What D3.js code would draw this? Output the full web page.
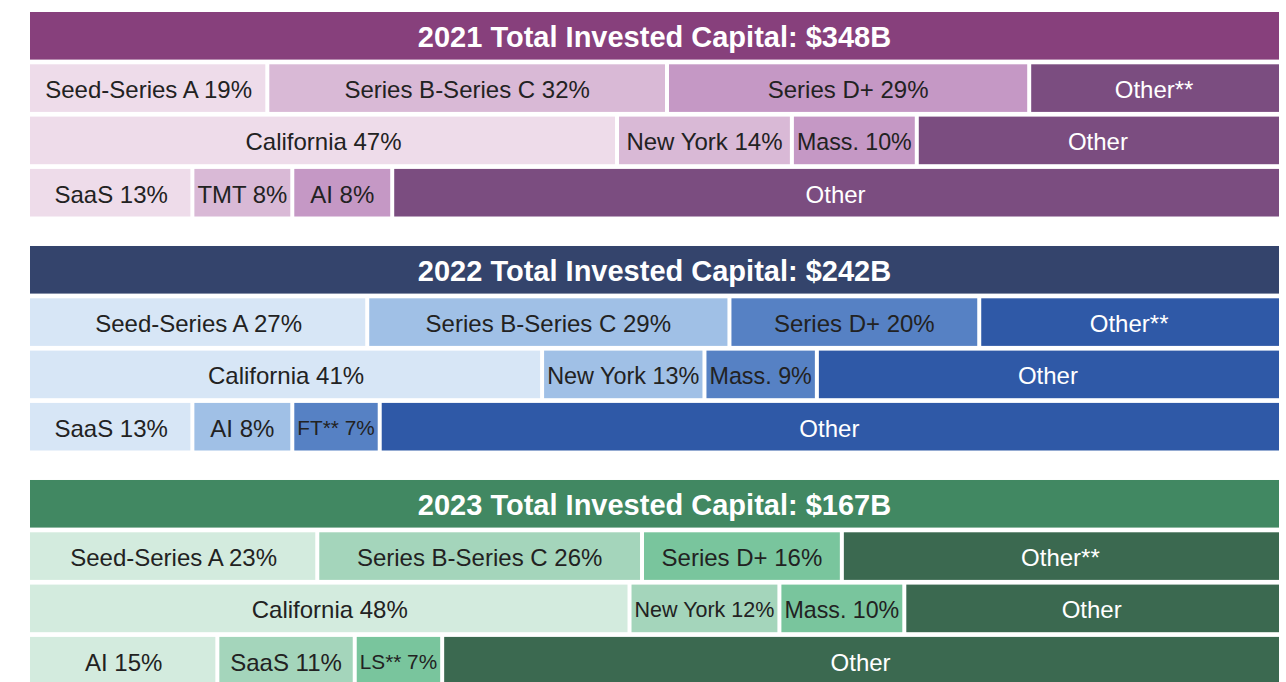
<!DOCTYPE html>
<html>
<head>
<meta charset="utf-8">
<script src="https://cdn.jsdelivr.net/npm/d3@7"></script>
<style>
  body { margin: 0; background: #fff; }
  svg text { font-family: "Liberation Sans", Arial, sans-serif; }
</style>
</head>
<body>
<svg width="1286" height="682"></svg>
<script>
const years = ['2021', '2022', '2023'];
const totals = [348, 242, 167];

const stageNames = [['Seed-Series A', 'Series B-Series C', 'Series D+'],
                    ['Seed-Series A', 'Series B-Series C', 'Series D+'],
                    ['Seed-Series A', 'Series B-Series C', 'Series D+']];
const stageShares = [[19, 32, 29], [27, 29, 20], [23, 26, 16]];

const regionNames = [['California', 'New York', 'Mass.'],
                     ['California', 'New York', 'Mass.'],
                     ['California', 'New York', 'Mass.']];
const regionShares = [[47, 14, 10], [41, 13, 9], [48, 12, 10]];

const sectorNames = [['SaaS', 'TMT', 'AI'], ['SaaS', 'AI', 'FT**'], ['AI', 'SaaS', 'LS**']];
const sectorShares = [[13, 8, 8], [13, 8, 7], [15, 11, 7]];

const otherLabels = ['Other**', 'Other', 'Other'];

// palette per year: title, level1, level2, level3, other
const palettes = [
    ['#87407c', '#eedcea', '#d9b9d6', '#c598c5', '#7b4d80'],
    ['#34446c', '#d7e6f6', '#a0c0e6', '#5681c4', '#2f59a7'],
    ['#418862', '#d3ebde', '#a4d5bb', '#79c59d', '#3b6950']
];

const svg = d3.select('svg');
const gap = 4;

const x = d3.scaleLinear().domain([0, 100]).range([30, 1279]);
const yBlock = d3.scaleBand().domain(years).range([12, 684.5]).paddingInner(0.126);
const rows = ['title', 'stage', 'region', 'sector'];

years.forEach((yr, yi) => {
    const y = d3.scaleBand().domain(rows)
        .range([yBlock(yr), yBlock(yr) + yBlock.bandwidth()])
        .paddingInner(0.09);
    const pal = palettes[yi];
    const g = svg.append('g');

    // title band
    g.append('rect')
        .attr('x', x(0)).attr('y', y('title'))
        .attr('width', x(100) - x(0)).attr('height', y.bandwidth())
        .attr('fill', pal[0]);
    g.append('text')
        .attr('x', (x(0) + x(100)) / 2).attr('y', y('title') + y.bandwidth() / 2)
        .attr('dy', '0.38em').attr('text-anchor', 'middle')
        .attr('fill', '#fff').attr('font-size', 29).attr('font-weight', 'bold')
        .text(`${yr} Total Invested Capital: $${totals[yi]}B`);

    const rowData = [
        ['stage', stageNames[yi], stageShares[yi], otherLabels[0]],
        ['region', regionNames[yi], regionShares[yi], otherLabels[1]],
        ['sector', sectorNames[yi], sectorShares[yi], otherLabels[2]]
    ];

    rowData.forEach(([key, names, shares, otherLabel]) => {
        let acc = 0;
        const segs = names.map((n, i) => {
            const s = { label: `${n} ${shares[i]}%`, start: acc, end: acc + shares[i], fill: pal[i + 1], dark: false };
            acc += shares[i];
            return s;
        });
        segs.push({ label: otherLabel, start: acc, end: 100, fill: pal[4], dark: true });

        const cellW = d => x(d.end) - x(d.start) - (d.start > 0 ? gap / 2 : 0) - (d.end < 100 ? gap / 2 : 0);

        const cell = g.selectAll(null).data(segs).join('g');
        cell.append('rect')
            .attr('x', d => x(d.start) + (d.start > 0 ? gap / 2 : 0))
            .attr('y', y(key))
            .attr('width', cellW)
            .attr('height', y.bandwidth())
            .attr('fill', d => d.fill);
        cell.append('text')
            .attr('x', d => (x(d.start) + x(d.end)) / 2)
            .attr('y', y(key) + y.bandwidth() / 2)
            .attr('dy', '0.42em').attr('text-anchor', 'middle')
            .attr('font-size', 24)
            .attr('fill', d => d.dark ? '#fff' : '#222')
            .text(d => d.label)
            .each(function(d) {
                // shrink label a bit when it is wider than its cell
                const w = this.getComputedTextLength();
                const room = cellW(d) - 6;
                if (w > room) d3.select(this).attr('font-size', 24 * room / w);
            });
    });
});
</script>
</body>
</html>
